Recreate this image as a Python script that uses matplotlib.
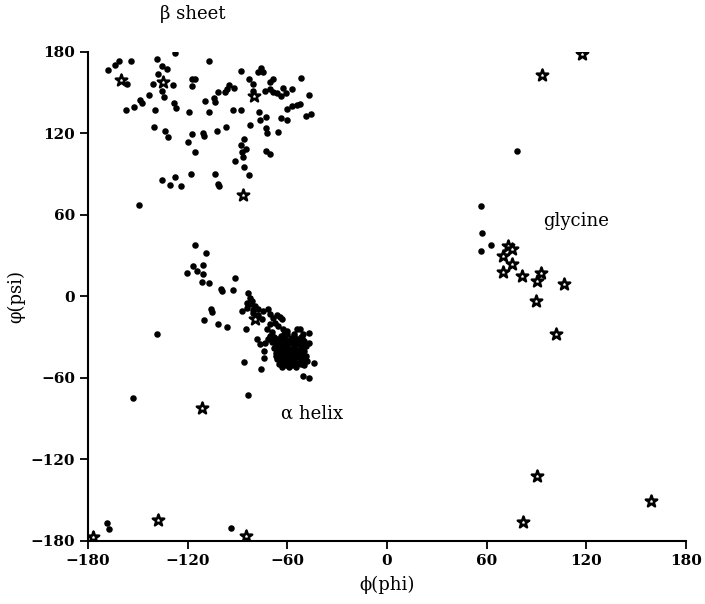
#!/usr/bin/env python3
"""
Ramachandran plot: phi/psi angles, residues as dots, glycines as open stars
"""
import numpy as np
import matplotlib
matplotlib.use("Agg")
import matplotlib.pyplot as plt

# (phi, psi) in degrees
sheet_dots = [
    (-167.8, 166.4), (-164, 170.5), (-161.5, 173), (-154.3, 173.3), (-156.7, 156.1),
    (-138.7, 174.8), (-127.6, 179), (-135.6, 169.4), (-132.6, 167.4), (-138, 163.7),
    (-140.7, 156.3), (-135.6, 151.4), (-128.6, 155.3), (-134.3, 146.5), (-143.1, 148.2),
    (-148.7, 144.5), (-147.7, 142.3), (-152.1, 139.1), (-157.4, 137.2), (-139.7, 137.4),
    (-128.2, 142.3), (-127, 139), (-119.4, 135.9), (-117.6, 160), (-115.6, 160),
    (-117.6, 155.1), (-107.3, 173.1), (-109.6, 144), (-104.2, 145.8), (-103.4, 143.3),
    (-101.6, 150.2), (-107, 135.9), (-96.5, 152.7), (-97.5, 150.2), (-94.9, 155.8),
    (-91.9, 153.2), (-88.1, 165.7), (-92.5, 137.2), (-88.1, 137.2), (-83.3, 160),
    (-80.5, 156.3), (-77.7, 165.2), (-76, 167.9), (-74.5, 165), (-80.5, 151.4),
    (-70.4, 157.6), (-68.8, 160), (-73.4, 151.4), (-70.4, 152.7), (-68.8, 150.7),
    (-66, 149.7), (-64, 147.7), (-62.8, 153.2), (-61, 149.7), (-57.4, 152.7),
    (-51.8, 160.5), (-47, 148.2), (-57.4, 140.3), (-54.4, 141.1), (-52.4, 141.4),
    (-60, 137.9), (-77.1, 135.5), (-73, 131.8), (-76.5, 130), (-63.8, 131.3),
    (-60.4, 130), (-48.9, 132.5), (-45.9, 134.2), (-82.5, 126.3), (-73, 123.7),
    (-72, 120.2), (-65.4, 120.7), (-96.9, 124.4), (-102.2, 121.5), (-110.6, 120),
    (-110, 118.2), (-117.6, 119.5), (-119.6, 113.3), (-115.6, 106.4), (-140.3, 124.4),
    (-133.7, 122.1), (-131.7, 117), (-85.9, 115.8), (-88.1, 111.4), (-84.9, 108.4),
    (-87.5, 106.4), (-86.5, 102.3), (-91.5, 99.3), (-86.1, 94.9), (-83.1, 89.5),
    (-73, 107.2), (-70.4, 104.7), (-118, 90), (-103.6, 90), (-101.6, 82.6),
    (-101, 80.9), (-127.6, 88), (-135.6, 85.8), (-130.6, 81.9), (-124, 81.3),
    (-149.3, 67.1),
]

helix_dots = [
    (-115.6, 37.6), (-109.2, 32.2), (-117, 22.3), (-111, 22.9), (-120.2, 17.5),
    (-114.6, 18.7), (-110.6, 16.2), (-111.6, 10.8), (-107, 9.6), (-91.5, 13.8),
    (-100.1, 5.7), (-99.5, 3.9), (-92.9, 4.6), (-106.1, -9.6), (-105.5, -11.3),
    (-110, -17.5), (-101.6, -20.6), (-96.2, -22.3), (-87.3, -10.8), (-84.9, -24.3),
    (-86.1, -48.5), (-76, -53.3), (-83.9, -73),
    # upper arm of the helix cluster
    (-83.5, 2.2), (-82.5, -1), (-84.5, -4.6), (-81.5, -3.5), (-79.5, -7.2),
    (-84.1, -8.3), (-80.5, -12), (-77.5, -9.6), (-74.5, -10.8), (-71.5, -9.6),
    (-70.4, -13.3), (-68.5, -15.7), (-66.4, -14), (-64.4, -15), (-63.4, -17),
    (-67.4, -19.4), (-70.4, -20.6), (-65.4, -21.9), (-62.4, -23.8), (-60.4, -25.6),
    (-54.4, -24.3), (-52.4, -23.8), (-50.4, -28), (-46.8, -27.3), (-46.8, -34.1),
    (-48, -47.7), (-43.8, -48.9), (-50.8, -58.8), (-46.8, -60.5), (-73.9, -45.2),
    (-78.1, -31.7), (-76.5, -35.4), (-73.4, -34.1), (-71.5, -31.7), (-70.4, -29.3),
    (-68.5, -30.5), (-73.9, -40.3), (-82, -6), (-78, -14), (-75, -17),
    (-72, -24), (-69, -26), (-81, -10),
    # dense core
    (-68, -30), (-64, -29), (-60, -28), (-56, -29), (-52, -30),
    (-66, -31.5), (-62, -31), (-58, -30.5), (-54, -31.5), (-51, -31),
    (-69, -34), (-65, -33), (-61, -32), (-57, -33), (-53, -34), (-50, -33),
    (-67, -35.5), (-63, -35), (-59, -34.5), (-55, -35.5), (-51, -35.5),
    (-68, -38), (-64, -37), (-60, -36), (-56, -37), (-52, -38), (-49, -37),
    (-66, -39.5), (-62, -39), (-58, -38.5), (-54, -39.5), (-50, -40),
    (-67, -42), (-63, -41), (-59, -40), (-55, -41), (-51, -42),
    (-65, -43.5), (-61, -43), (-57, -42.5), (-53, -43.5), (-49, -44),
    (-66, -46), (-62, -45), (-58, -44), (-54, -45), (-50, -46),
    (-64, -47.5), (-60, -47), (-56, -46.5), (-52, -47.5),
    (-65, -50), (-61, -49), (-57, -48), (-53, -49), (-50, -51),
    (-63, -52), (-59, -52), (-55, -52), (-61, -51), (-57, -50.5),
    (-66, -34.5), (-62, -33.5), (-58, -32.5), (-54, -33), (-52, -36.5),
    (-66, -41), (-62, -42), (-58, -41.5), (-54, -42.5), (-52, -44.5),
    (-64, -44.5), (-60, -45), (-56, -44), (-52, -50), (-55, -49.5),
    (-59, -49.5), (-63, -49), (-67, -44), (-65, -37.5), (-61, -37.5),
    (-57, -39.5), (-53, -40.5), (-50.5, -48.5), (-56, -27.5), (-62, -27.5),
]

other_dots = [
    (56.4, 66.6), (57, 46.5), (56.4, 33.2), (62.4, 37.6), (78.1, 107.2),
    (-152.7, -75.2), (-138.5, -28), (-168.8, -167.4), (-167.2, -171.8), (-94.1, -170.6),
]

glycine_stars = [
    (-160.3, 159.1), (-135, 157.6), (-80.1, 147.3), (-86.5, 74.5),
    (-79.5, -17), (-111.2, -82),
    (73, 36.7), (75.1, 34.7), (70, 29.7), (75.5, 23.6), (69.7, 18.2),
    (81.5, 15), (92.7, 17), (90.5, 11.3), (106.7, 8.8), (89.7, -3.5), (101.6, -28),
    (93.5, 163.2), (117.2, 178.5), (90.1, -132.5), (81.7, -166.4), (158.9, -151),
    (-138, -165), (-176.8, -177.2), (-85.1, -176.3),
]

ticks = [-180, -120, -60, 0, 60, 120, 180]

plt.rcParams['font.family'] = ['DejaVu Serif']

fig = plt.figure(figsize=(7.05, 6.04), dpi=100)
ax = fig.add_axes([0.125, 0.105, 0.848, 0.809])

dots = np.array(sheet_dots + helix_dots + other_dots)
ax.scatter(dots[:, 0], dots[:, 1], s=22, c='black', linewidths=0, zorder=2)

stars = np.array(glycine_stars)
ax.scatter(stars[:, 0], stars[:, 1], s=75, marker='*', facecolors='white',
           edgecolors='black', linewidths=1.8, zorder=3)

ax.set_xlim(-180, 180)
ax.set_ylim(-180, 180)
ax.set_xticks(ticks)
ax.set_yticks(ticks)
ax.set_xticklabels([str(t).replace('-', '\u2212') for t in ticks], fontweight='bold')
ax.set_yticklabels([str(t).replace('-', '\u2212') for t in ticks], fontweight='bold')
ax.tick_params(labelsize=11, length=6, width=1.3, direction='out')

for side in ('top', 'right'):
    ax.spines[side].set_visible(False)
for side in ('left', 'bottom'):
    ax.spines[side].set_linewidth(1.5)

ax.set_xlabel('\u03d5(phi)', fontsize=13, labelpad=6)
ax.set_ylabel('\u03c6(psi)', fontsize=13, labelpad=4)

ax.text(-117, 208, '\u03b2 sheet', fontsize=13, ha='center', va='center',
        clip_on=False)
ax.text(114, 55.5, 'glycine', fontsize=13, ha='center', va='center')
ax.text(-45, -86.5, '\u03b1 helix', fontsize=13, ha='center', va='center')

fig.savefig('out.png', dpi=100)
